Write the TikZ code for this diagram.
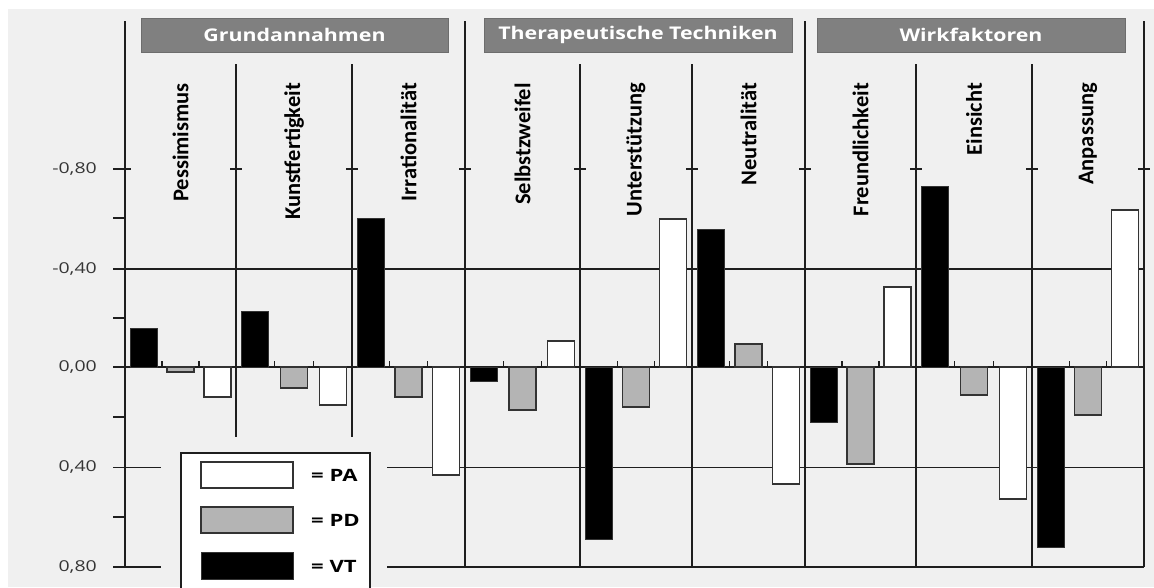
\documentclass[tikz,border=0pt]{standalone}
\usepackage{fontspec}
\setmainfont{Open Sans}
\newfontfamily\hdrfont[FakeStretch=1.22]{Open Sans}
\newfontfamily\axfont[FakeStretch=1.3]{Open Sans}
\newfontfamily\catfont{Carlito}
\definecolor{bggray}{HTML}{F0F0F0}
\definecolor{hdrgray}{HTML}{808080}
\definecolor{pdgray}{HTML}{B4B4B4}
\definecolor{edge}{HTML}{333333}
\definecolor{axis}{HTML}{1E1E1E}
\tikzset{
  axisline/.style={draw=axis, line width=1.5pt},
  gridline/.style={draw=axis, line width=1.2pt},
  tickline/.style={draw=axis, line width=1.2pt},
  header/.style={fill=hdrgray, draw=hdrgray!85!black, line width=0.4pt, text=white,
    minimum height=34pt, inner sep=0pt, font=\hdrfont\bfseries\fontsize{17.5}{20}\selectfont},
  catlabel/.style={rotate=90, anchor=east, inner sep=0pt,
    font=\catfont\bfseries\fontsize{22.5}{24}\selectfont},
  ylab/.style={anchor=east, inner sep=0pt, font=\axfont\fontsize{15}{17}\selectfont, text=axis!90!white},
  legtext/.style={anchor=west, inner sep=0pt, font=\axfont\bfseries\fontsize{17}{19}\selectfont},
  vtbar/.style={fill=black, draw=black!80, line width=1pt},
  pdbar/.style={fill=pdgray, draw=edge, line width=1.3pt},
  pabar/.style={fill=white, draw=edge, line width=1.3pt},
}
\begin{document}
\begin{tikzpicture}[x=1pt, y=-1pt]
\useasboundingbox (0,0) rectangle (1154,587);
% canvas
\fill[bggray] (8,9) rectangle (1154,587);

% horizontal grid lines
\draw[gridline] (113,269) -- (1144,269);
\draw[gridline] (113,367) -- (1144,367);
\draw[gridline] (113,467.5) -- (161,467.5);
\draw[gridline] (387,467.5) -- (1144,467.5);
\draw[gridline] (113,567) -- (161,567);
\draw[gridline] (387,567) -- (1144,567);

% minor ticks on the value axis
\foreach \yy in {218,318,417,517}
  \draw[tickline] (113,\yy) -- (125,\yy);
\draw[tickline] (113,169) -- (131,169);

% group separators and value axis
\foreach \xx in {125,465,805,1144}
  \draw[axisline] (\xx,21) -- (\xx,567);
% category separators
\foreach \xx in {236,352}
  \draw[axisline] (\xx,64) -- (\xx,437);
\foreach \xx in {580,692,916,1032}
  \draw[axisline] (\xx,64) -- (\xx,567);
% small cross ticks at -0,80
\foreach \xx in {236,352,465,580,692,805,916,1032,1144}
  \draw[tickline] (\xx-6,169) -- (\xx+6,169);

% value axis labels
\node[ylab] (y1) at (97,169) {-0,80};
\node[ylab] (y2) at (97,269) {-0,40};
\node[ylab] (y3) at (97,367) {0,00};
\node[ylab] (y4) at (97,467.5) {0,40};
\node[ylab] (y5) at (97,567) {0,80};

% bars, slot ticks and category labels
\foreach \name/\xl/\xr/\vt/\pd/\pa [count=\i] in {
  Pessimismus/125/236/-0.156/0.02/0.12,
  Kunstfertigkeit/236/352/-0.224/0.084/0.152,
  Irrationalität/352/465/-0.596/0.12/0.432,
  Selbstzweifel/465/580/0.056/0.172/-0.104,
  Unterstützung/580/692/0.688/0.16/-0.592,
  Neutralität/692/805/-0.552/-0.092/0.468,
  Freundlichkeit/805/916/0.22/0.388/-0.32,
  Einsicht/916/1032/-0.724/0.112/0.528,
  Anpassung/1032/1144/0.72/0.192/-0.628}{
  \pgfmathsetmacro\w{(\xr-\xl)/3}
  \pgfmathsetmacro\ca{\xl+0.5*\w}
  \pgfmathsetmacro\cb{\xl+1.5*\w}
  \pgfmathsetmacro\cc{\xl+2.5*\w}
  \pgfmathsetmacro\cm{(\xl+\xr)/2}
  \draw[tickline] ({\xl+\w},361) -- ({\xl+\w},367);
  \draw[tickline] ({\xl+2*\w},361) -- ({\xl+2*\w},367);
  \draw[vtbar] ({\ca-13.5},367) rectangle ({\ca+13.5},{367+250*\vt});
  \draw[pdbar] ({\cb-13.5},367) rectangle ({\cb+13.5},{367+250*\pd});
  \draw[pabar] ({\cc-13.5},367) rectangle ({\cc+13.5},{367+250*\pa});
  \node[catlabel] (cat\i) at (\cm,83) {\name};
}

% group headers
\node[header, minimum width=307pt] (g1) at (294.5,35) {Grundannahmen};
\node[header, minimum width=308pt] (g2) at (638,35) {Therapeutische Techniken};
\node[header, minimum width=308pt] (g3) at (971,35) {Wirkfaktoren};

% legend
\draw[fill=white, draw=axis, line width=1.2pt] (181,453) rectangle (370,600);
\draw[pabar] (201,462) rectangle (293,488);
\draw[pdbar] (201,507) rectangle (293,533);
\draw[vtbar] (201,552) rectangle (293,579);
\node[legtext] (lpa) at (311,475) {= PA};
\node[legtext] (lpd) at (311,520) {= PD};
\node[legtext] (lvt) at (311,566) {= VT};
\end{tikzpicture}
\end{document}
